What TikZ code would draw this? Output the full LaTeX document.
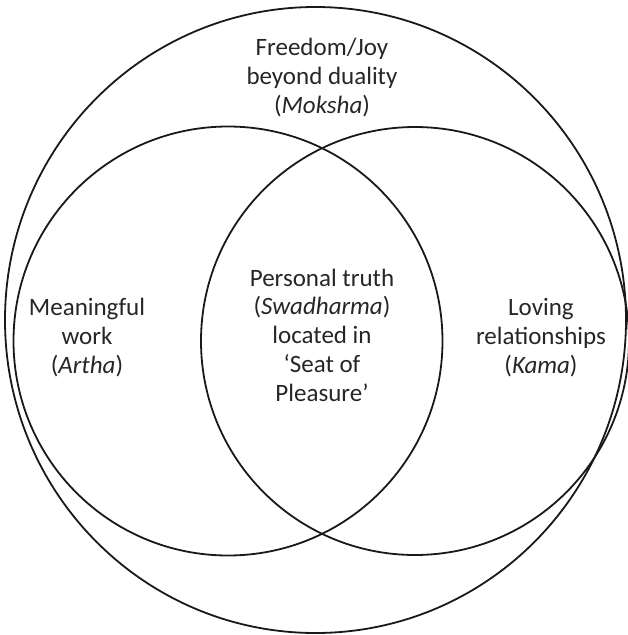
\documentclass[tikz,border=0pt]{standalone}
\usepackage{fontspec}
\setmainfont{Carlito}
\begin{document}
\begin{tikzpicture}[x=1pt,y=-1pt,
  ring/.style={draw=black!90,line width=1.8pt},
  lbl/.style={align=center,inner sep=0pt,text=black!85,font=\fontsize{25}{28.7}\selectfont}]
\useasboundingbox (0,0) rectangle (628,635);
\draw[ring] (315.5,320) ellipse [x radius=310.5, y radius=313];
\draw[ring] (228,341) circle [radius=214.5];
\draw[ring] (415,341) circle [radius=214];
\node[lbl,anchor=base] (moksha) at (322,113) {Freedom/Joy\\beyond duality\\(\textit{Moksha})};
\node[lbl,anchor=base] (artha) at (87,373) {Meaningful\\work\\(\textit{Artha})};
\node[lbl,anchor=base] (swad) at (322,401) {Personal truth\\(\textit{Swadharma})\\located in\\‘Seat of\\Pleasure’};
\node[lbl,anchor=base] (kama) at (541,373) {Loving\\relationships\\(\textit{Kama})};
\end{tikzpicture}
\end{document}
